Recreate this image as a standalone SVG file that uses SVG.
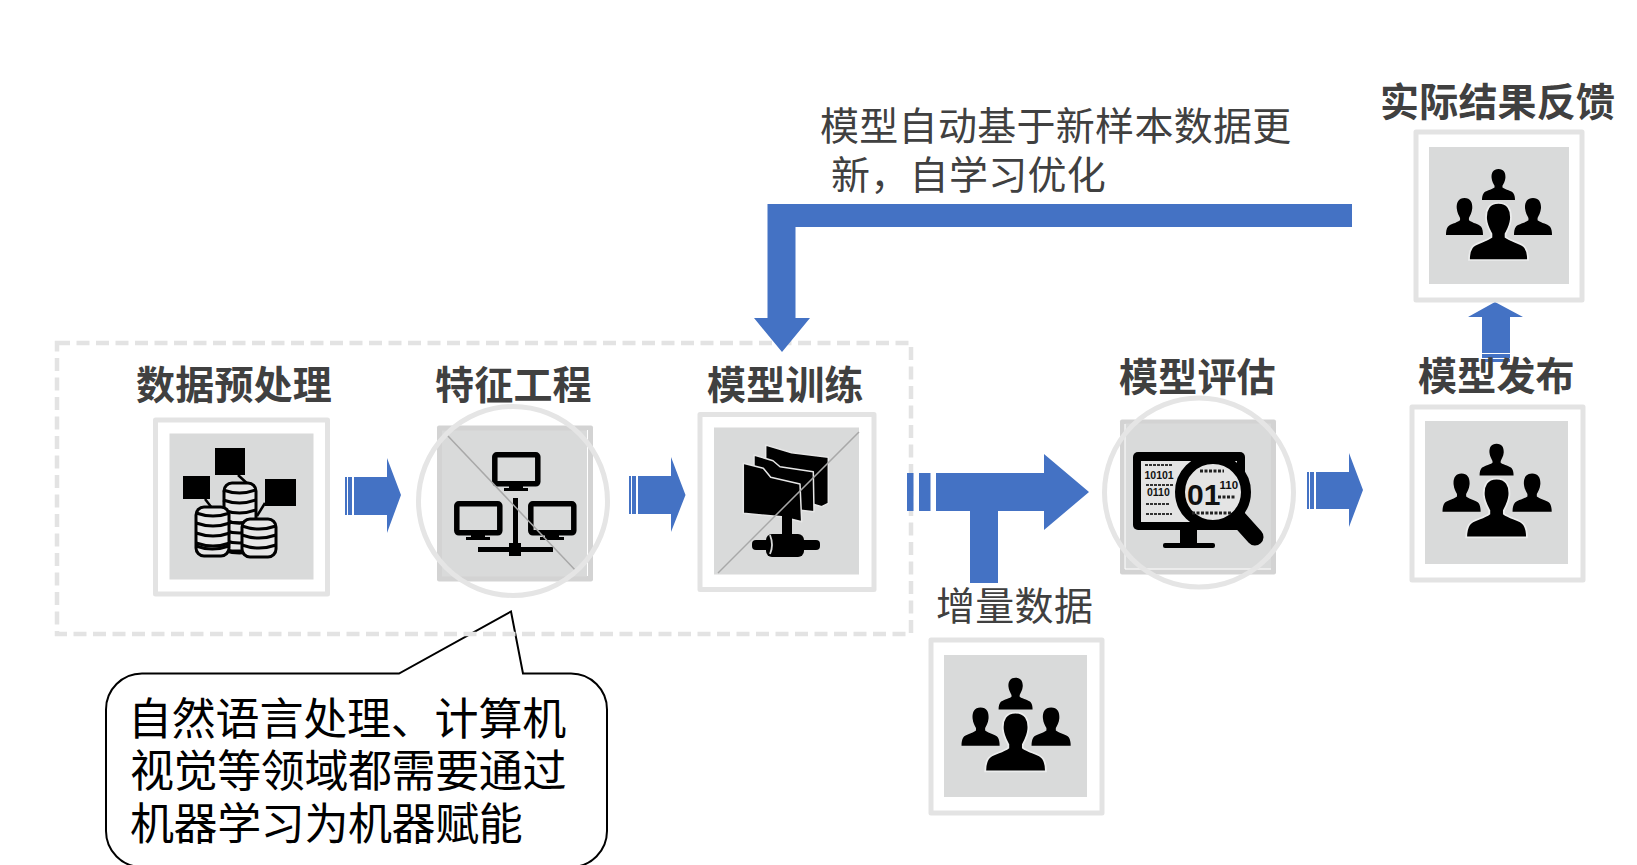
<svg xmlns="http://www.w3.org/2000/svg" width="1637" height="865" viewBox="0 0 1637 865">
<style>
text{font-family:"Noto Sans CJK SC","Noto Sans",sans-serif;fill:#404040}
.b{font-size:39px;font-weight:700;letter-spacing:.2px}
.r{font-size:39px;font-weight:400;letter-spacing:.3px}
.c{font-size:44px;font-weight:400;fill:#000;letter-spacing:-.4px}
.bits{font-family:"Liberation Sans",sans-serif;font-weight:700;fill:#111}
.frame{fill:#fff;stroke:#e3e3e3;stroke-width:5;stroke-linejoin:round}
.panel{fill:#d9dada}
.ring{fill:none;stroke:#e5e5e5;stroke-width:5}
.diag{stroke:#a8a8a8;stroke-width:1.500;fill:none}
.arrow{fill:#4472c4}
.ink{fill:#000}
.mon{fill:#d9dada;stroke:#000;stroke-width:5.500;stroke-linejoin:round}
.cyl{fill:#e6e6e6;stroke:#000;stroke-width:3}
.band{fill:none;stroke:#000;stroke-width:3}
.fold{fill:#000;stroke:#e6e6e6;stroke-width:1.500;stroke-linejoin:round}
.seam{stroke:#fff;stroke-width:1;fill:none}
</style>
<defs>
<path id="person" d="M50 0C66 0 72 12 71 28C70 40 65 48 62 54L62 60C72 68 90 70 95 78C99 84 100 92 100 100L0 100C0 92 1 84 5 78C10 70 28 68 38 60L38 54C35 48 30 40 29 28C28 12 34 0 50 0Z"/>
<g id="people">
<use href="#person" transform="translate(53 22) scale(.33 .31)"/>
<use href="#person" transform="translate(17 51) scale(.37 .37)"/>
<use href="#person" transform="translate(85 51) scale(.38 .37)"/>
<use href="#person" transform="translate(40 56) scale(.59 .57)" stroke="#eceded" stroke-width="3"/>
</g>
<g id="cyl3">
<path class="band" d="M0 6Q17 12 34 6M0 16Q17 22 34 16M0 26Q17 32 34 26M0 36Q17 42 34 36"/>
</g>
<g id="monitor">
<rect class="mon" x="2.800" y="2.800" width="43" height="29" rx="2"/>
<rect class="ink" x="17" y="33" width="14" height="4"/>
<rect class="ink" x="12" y="36" width="24" height="3"/>
</g>
</defs>

<g id="callout">
<path d="M399 673.500H142A36 36 0 0 0 106 709.500V831A36 36 0 0 0 142 867H571A36 36 0 0 0 607 831V709.500A36 36 0 0 0 571 673.500H523L511 611.500Z" fill="#fff" stroke="#000" stroke-width="2"/>
<text class="c" x="128" y="735" style="letter-spacing:-.2px">自然语言处理、计算机</text>
<text class="c" x="130" y="787">视觉等领域都需要通过</text>
<text class="c" x="130" y="840">机器学习为机器赋能</text>
</g>

<g id="group-box">
<rect x="57" y="343" width="854" height="291" fill="none" stroke="#e3e3e3" stroke-width="4.500" stroke-dasharray="13 6.500"/>
</g>

<g id="connectors">
<g id="arrow-1"><rect class="arrow" x="345" y="477" width="2" height="38"/><rect class="arrow" x="348" y="477" width="4" height="38"/><path class="arrow" d="M354 477H387V458L401 495L387 533V515H354Z"/></g>
<g id="arrow-2"><rect class="arrow" x="629" y="476" width="2" height="38"/><rect class="arrow" x="632" y="476" width="4" height="38"/><path class="arrow" d="M638 476H671V457L685.500 495L671 532V514H638Z"/></g>
<g id="arrow-3"><rect class="arrow" x="907" y="473" width="6.500" height="38"/><rect class="arrow" x="919" y="473" width="11.500" height="38"/><path class="arrow" d="M936 473H1044V454L1089 492L1044 530V511H998V583H970V511H936Z"/></g>
<g id="arrow-4"><rect class="arrow" x="1307" y="472" width="2" height="37"/><rect class="arrow" x="1310" y="472" width="4" height="37"/><path class="arrow" d="M1316 472H1349V453L1363 490L1349 527V509H1316Z"/></g>
<g id="arrow-up"><path class="arrow" d="M1495 302L1523 317H1510V353H1482V317H1468Z"/><rect class="arrow" x="1482" y="354" width="28" height="4"/><rect class="arrow" x="1482" y="359" width="28" height="3"/></g>
<g id="arrow-feedback"><path class="arrow" d="M1352 204V227H795.500V318H810L782 352L754 318H767.500V204Z"/></g>
</g>

<g id="node-preprocess">
<rect class="frame" x="155.500" y="420" width="172" height="174"/>
<rect class="panel" x="169.500" y="433.500" width="144" height="146"/>
<rect class="ink" x="215" y="448" width="30" height="27"/>
<rect class="ink" x="183" y="476" width="27" height="23"/>
<rect class="ink" x="265" y="479" width="31" height="27"/>
<path d="M238 475L250 486M205 499L212 508M265 503L257 516" stroke="#000" stroke-width="2.500" fill="none"/>
<rect class="cyl" x="224" y="483" width="32" height="68" rx="8"/>
<use href="#cyl3" transform="translate(223 484) scale(.97 1)"/>
<use href="#cyl3" transform="translate(223 514) scale(.97 1)"/>
<rect class="cyl" x="196" y="507" width="33" height="49" rx="8"/>
<use href="#cyl3" transform="translate(196 507)"/>
<path class="band" d="M196 546Q212 552 229 546"/>
<rect class="cyl" x="242" y="519" width="34" height="38" rx="8"/>
<path class="band" d="M242 526Q259 532 276 526M242 535Q259 541 276 535M242 545Q259 551 276 545"/>
<text class="b" x="136" y="399">数据预处理</text>
</g>

<g id="node-features">
<rect x="437" y="425.500" width="156" height="156" rx="2" fill="#d3d3d3"/>
<rect class="panel" x="442" y="430.500" width="145" height="146"/>
<path class="seam" d="M587.500 430V576"/>
<use href="#monitor" transform="translate(492 452)"/>
<use href="#monitor" transform="translate(454 501)"/>
<use href="#monitor" transform="translate(528 501)"/>
<rect class="ink" x="513" y="498" width="5" height="50"/>
<rect class="ink" x="478" y="547" width="75" height="5"/>
<rect class="ink" x="509" y="543" width="12" height="13"/>
<path class="diag" d="M447 435L577 572"/>
<circle class="ring" cx="513" cy="501" r="94.500"/>
<text class="b" x="435" y="399">特征工程</text>
</g>

<g id="node-training">
<rect class="frame" x="700" y="414.500" width="174" height="175"/>
<rect class="panel" x="714" y="427.500" width="145" height="147"/>
<path class="fold" d="M765.700 445L785 450.700L791.700 452.700L828.300 457.300V503.300L821.700 506.700L765.700 490Z"/>
<path class="fold" d="M754 455L773 460.700L780 466.700L813.300 471.700L814 511.700L754 505Z"/>
<path class="fold" d="M743.300 463.300L763.300 468.300L770.700 477.300L800 484L801.700 521.700L781.700 516.700L743.300 513.300Z"/>
<rect class="ink" x="782" y="516" width="10" height="20"/>
<rect class="ink" x="752" y="540" width="68" height="10" rx="4"/>
<rect class="ink" x="766" y="534" width="38" height="23" rx="6"/>
<path d="M770 535Q774 545 770 554" stroke="#d9dada" stroke-width="1.800" fill="none"/>
<path class="diag" d="M859 432L718 573"/>
<text class="b" x="707" y="399">模型训练</text>
</g>

<g id="node-evaluate">
<rect x="1120" y="419.500" width="156" height="155" rx="2" fill="#d3d3d3"/>
<rect class="panel" x="1125" y="423.500" width="146" height="146"/>
<path class="seam" d="M1125 424V569H1271"/>
<rect class="ink" x="1133" y="452" width="112" height="78" rx="5"/>
<rect x="1141" y="461" width="96" height="61" fill="#e4e4e4"/>
<rect class="ink" x="1180" y="530" width="17" height="14"/>
<rect class="ink" x="1163" y="543" width="52" height="5" rx="2"/>
<text class="bits" x="1144.500" y="479" font-size="10.500">10101</text>
<text class="bits" x="1147" y="496" font-size="10.500">0110</text>
<path d="M1145 465H1172M1146 485H1174M1146 504H1170M1146 514H1172" stroke="#333" stroke-width="2" stroke-dasharray="3 1"/>
<path d="M1237 517L1255 537" stroke="#000" stroke-width="17" stroke-linecap="round"/>
<circle cx="1213" cy="492" r="33" fill="#e4e4e4" stroke="#000" stroke-width="10"/>
<text class="bits" x="1187" y="505" font-size="30">01</text>
<text class="bits" x="1219.500" y="489" font-size="11.500">110</text>
<path d="M1218 497H1236M1192 513H1232M1200 471H1224" stroke="#222" stroke-width="3" stroke-dasharray="3 1.500"/>
<circle class="ring" cx="1199" cy="492.500" r="94.500"/>
<text class="b" x="1119" y="391">模型评估</text>
</g>

<g id="node-release">
<rect class="frame" x="1412" y="407" width="171" height="173"/>
<rect class="panel" x="1425" y="421" width="143" height="143"/>
<use href="#people" transform="translate(1425 421) scale(1.03 1.03)"/>
<text class="b" x="1418" y="390">模型发布</text>
</g>

<g id="node-feedback">
<rect class="frame" x="1416" y="132" width="166" height="168"/>
<rect class="panel" x="1429" y="147" width="140" height="137"/>
<use href="#people" transform="translate(1429 147)"/>
<text class="b" x="1380" y="116">实际结果反馈</text>
</g>

<g id="node-increment">
<rect class="frame" x="931" y="640" width="171" height="173"/>
<rect class="panel" x="944" y="655" width="143" height="142"/>
<use href="#people" transform="translate(944 655) scale(1.03 1.03)"/>
<text class="r" x="936" y="620">增量数据</text>
</g>

<g id="label-update">
<text class="r" x="820" y="140">模型自动基于新样本数据更</text>
<text class="r" x="831" y="189">新，自学习优化</text>
</g>
</svg>
